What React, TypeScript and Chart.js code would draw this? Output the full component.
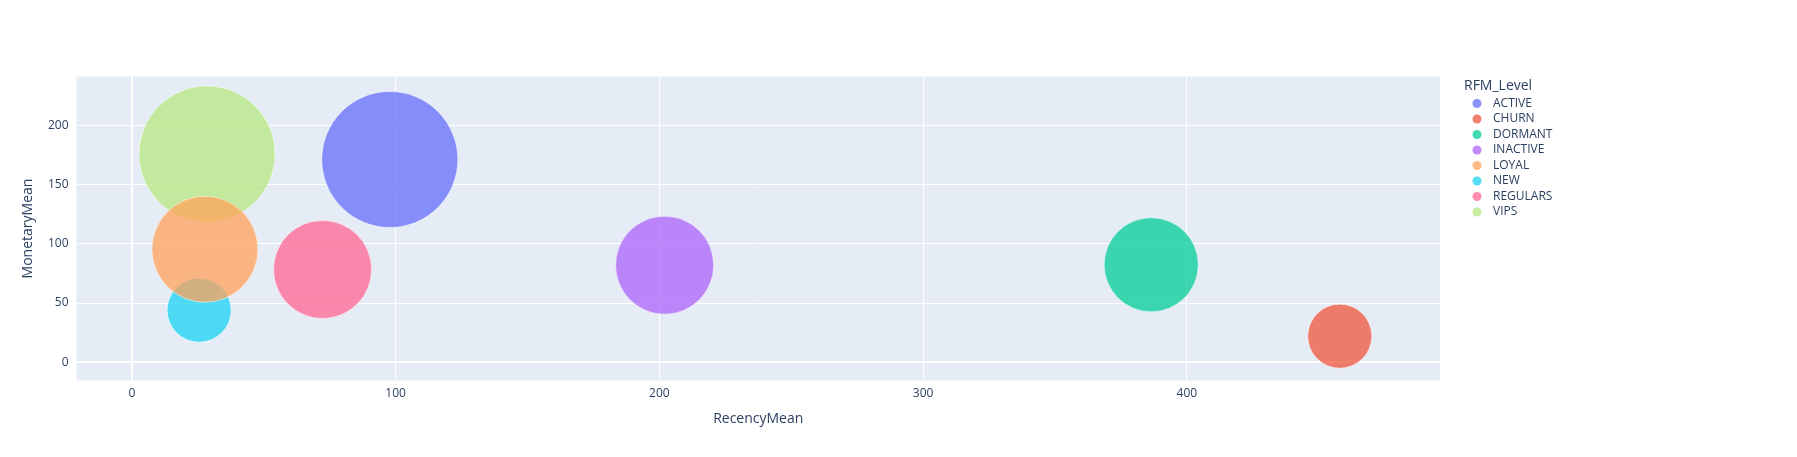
import { useRef, useEffect } from "react";
import Chart from "chart.js/auto";
import type { Chart as ChartJS, Plugin } from "chart.js";

const levels = ["ACTIVE", "CHURN", "DORMANT", "INACTIVE", "LOYAL", "NEW", "REGULARS", "VIPS"];
const recencyMean = [97.8, 458, 386.5, 202, 27.7, 25.5, 72.3, 28.5];
const monetaryMean = [171.4, 22, 82.4, 82, 95.5, 44, 78.4, 176];
const bubbleSize = [68, 32, 47, 49, 53, 32, 49, 68];
const colors = ["#636efa", "#EF553B", "#00cc96", "#ab63fa", "#FFA15A", "#19d3f3", "#FF6692", "#B6E880"];

const plotBg: Plugin = {
  id: "plotBg",
  beforeDraw(chart) {
    const { ctx, chartArea: a } = chart;
    ctx.save();
    ctx.fillStyle = "#E5ECF6";
    ctx.fillRect(a.left, a.top, a.right - a.left, a.bottom - a.top);
    ctx.restore();
  },
};

// plotly-like legend drawn to the right of the plot area
const sideLegend: Plugin = {
  id: "sideLegend",
  afterDraw(chart) {
    const { ctx, chartArea: a } = chart;
    const x0 = a.right + 24;
    ctx.save();
    ctx.textBaseline = "middle";
    ctx.fillStyle = "#2a3f5f";
    ctx.font = "14px 'Open Sans', sans-serif";
    ctx.fillText("RFM_Level", x0, a.top + 10);
    ctx.font = "12px 'Open Sans', sans-serif";
    levels.forEach((name, i) => {
      const y = a.top + 27 + i * 15.5;
      ctx.beginPath();
      ctx.arc(x0 + 13, y, 4.5, 0, Math.PI * 2);
      ctx.fillStyle = colors[i] + "bf";
      ctx.fill();
      ctx.fillStyle = "#2a3f5f";
      ctx.fillText(name, x0 + 29, y);
    });
    ctx.restore();
  },
};

const font = { family: "'Open Sans', sans-serif", size: 12 };

export default function App() {
  const canvasRef = useRef<HTMLCanvasElement | null>(null);
  const chartRef = useRef<ChartJS | null>(null);

  useEffect(() => {
    if (!canvasRef.current) return;
    chartRef.current?.destroy();
    chartRef.current = new Chart(canvasRef.current, {
      type: "bubble",
      data: {
        datasets: levels.map((name, i) => ({
          label: name,
          data: [{ x: recencyMean[i], y: monetaryMean[i], r: bubbleSize[i] }],
          backgroundColor: colors[i] + "bf",
          borderColor: "#ffffff",
          borderWidth: 0.5,
        })),
      },
      options: {
        animation: false,
        responsive: true,
        maintainAspectRatio: false,
        layout: { padding: { top: 22, right: 349, left: 2 } },
        plugins: {
          legend: { display: false },
        },
        scales: {
          x: {
            type: "linear",
            min: -21,
            max: 496,
            afterBuildTicks: (s) => { s.ticks = s.ticks.filter((t) => t.value % 100 === 0); },
            ticks: { stepSize: 100, color: "#2a3f5f", font, padding: 6 },
            grid: { color: "#ffffff", lineWidth: (c) => (c.tick && c.tick.value === 0 ? 2 : 1), drawTicks: false },
            border: { display: false },
            title: { display: true, text: "RecencyMean", color: "#2a3f5f", font: { ...font, size: 14 } },
          },
          y: {
            type: "linear",
            min: -15.5,
            max: 241.6,
            afterBuildTicks: (s) => { s.ticks = s.ticks.filter((t) => t.value % 50 === 0); },
            ticks: { stepSize: 50, color: "#2a3f5f", font, padding: 8 },
            grid: { color: "#ffffff", lineWidth: (c) => (c.tick && c.tick.value === 0 ? 2 : 1), drawTicks: false },
            border: { display: false },
            title: { display: true, text: "MonetaryMean", color: "#2a3f5f", font: { ...font, size: 14 } },
          },
        },
      },
      plugins: [plotBg, sideLegend],
    });
    return () => chartRef.current?.destroy();
  }, []);

  return (
    <div style={{ width: "100%", height: 441 }}>
      <canvas ref={canvasRef} />
    </div>
  );
}
